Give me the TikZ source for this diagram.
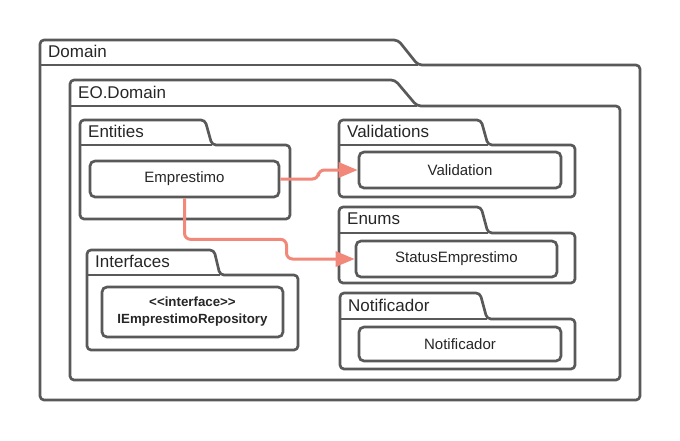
\documentclass[tikz,border=0pt]{standalone}
\usepackage{fontspec}
\setmainfont{Liberation Sans}
\usetikzlibrary{arrows.meta}
\definecolor{linegray}{HTML}{595959}
\definecolor{salmon}{HTML}{F2887A}
\tikzset{
  pkgline/.style={draw=linegray, line width=2.7pt, rounded corners=4pt, line join=round},
  pkglabel/.style={anchor=west, inner sep=0pt, font=\fontsize{17}{19}\selectfont, text=black!85},
  classbox/.style={draw=linegray, line width=2.7pt, rounded corners=5pt, inner sep=0pt, fill=white,
    font=\fontsize{15}{17}\selectfont, text=black!85, align=center},
  conn/.style={draw=salmon, line width=3pt, rounded corners=6pt, -{Triangle[length=19pt,width=15pt]}}
}
\newcommand{\umlpkg}[9]{%
  \draw[pkgline] (#1,#7) -- (#1,#2) -- (#3,#2) -- (#4,#5) -- (#6,#5) -- (#6,#7) -- cycle;
  \draw[pkgline] (#1,#5) -- (#4,#5);
  \node[pkglabel] (#9) at ({#1+8},{(#2+#5)/2-1}) {#8};
}
\begin{document}
\begin{tikzpicture}[x=1pt,y=-1pt]
\useasboundingbox (0,0) rectangle (680,440);
\umlpkg{40}{40}{398}{418}{65}{640}{400}{Domain}{pdomain}
\umlpkg{70}{80}{395}{417}{106}{620}{380}{EO.Domain}{peo}
\umlpkg{80}{120}{205}{212}{145}{290}{219}{Entities}{pent}
\umlpkg{339}{120}{481}{488}{145}{575}{197}{Validations}{pval}
\umlpkg{339}{207}{481}{488}{233}{575}{283}{Enums}{penum}
\umlpkg{340}{293}{480}{487}{319}{575}{369}{Notificador}{pnot}
\umlpkg{87}{250}{214}{220}{275}{298}{350}{Interfaces}{pint}

\node[classbox, minimum width=189pt, minimum height=36pt] (emp) at (184.5,179) {Emprestimo};
\node[classbox, minimum width=202pt, minimum height=36pt] (val) at (460,170) {Validation};
\node[classbox, minimum width=201pt, minimum height=36pt] (status) at (456.5,259) {StatusEmprestimo};
\node[classbox, minimum width=202pt, minimum height=34pt] (notif) at (460,344) {Notificador};
\node[classbox, minimum width=181pt, minimum height=50pt, font=\bfseries\fontsize{13.3}{17}\selectfont] (irepo) at (192.5,312) {<{}<interface>{}>\\IEmprestimoRepository};

\draw[conn] (emp.east) -- ++(38,0) |- (val.west);
\draw[conn] (emp.south) -- ++(0,41) -- ++(102,0) |- (status.west);
\end{tikzpicture}
\end{document}
